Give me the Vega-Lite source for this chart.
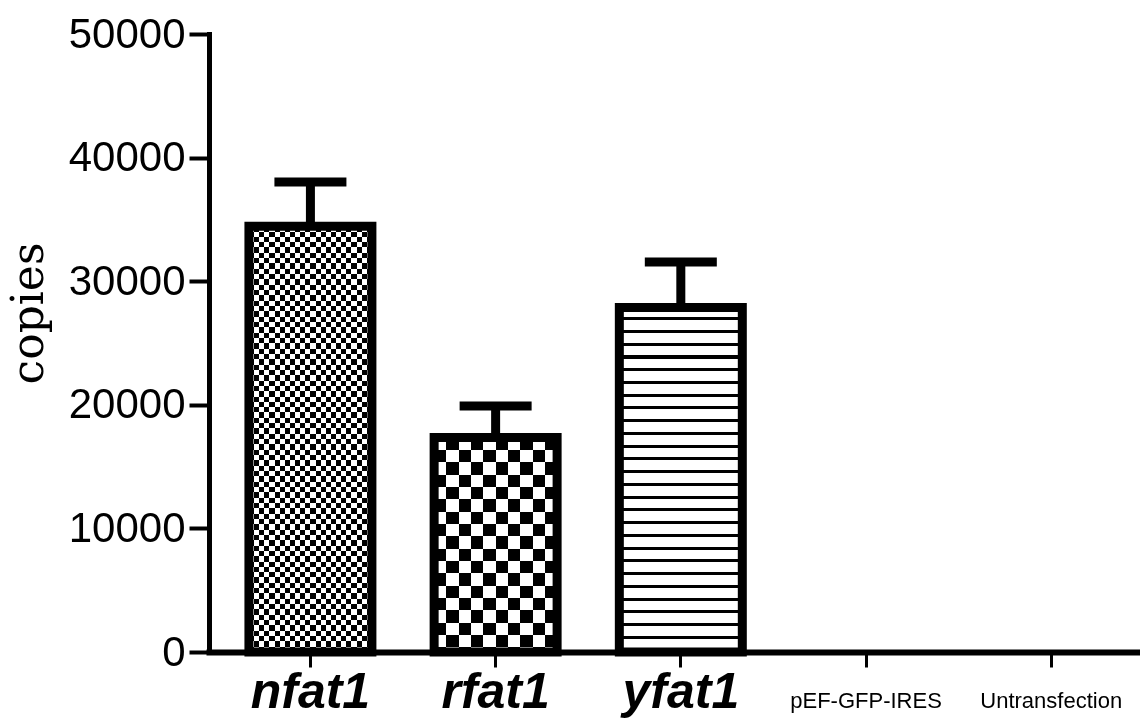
{
"$schema": "https://vega.github.io/schema/vega-lite/v6.json",
"width": 931,
"height": 618,
"autosize": "none",
"padding": {"left": 209, "top": 34, "right": 0, "bottom": 67},
"background": "#ffffff",
"config": {"view": {"stroke": null}},
"data": {"values": [
{"name": "nfat1", "value": 34450, "upper": 38030},
{"name": "rfat1", "value": 17350, "upper": 19900},
{"name": "yfat1", "value": 27870, "upper": 31550},
{"name": "pEF-GFP-IRES", "value": 0, "upper": null},
{"name": "Untransfection", "value": 0, "upper": null}
]},
"encoding": {
"x": {"field": "name", "type": "nominal", "sort": null,
"scale": {"domain": ["nfat1", "rfat1", "yfat1", "pEF-GFP-IRES", "Untransfection"], "paddingInner": 0.336, "paddingOuter": 0.1815, "align": 0.594},
"axis": {"title": null, "labelAngle": 0, "domainColor": "#000", "domainWidth": 6, "domainCap": "square", "tickColor": "#000", "tickWidth": 3, "tickSize": 15, "labelColor": "#000", "labelBaseline": "alphabetic", "labelPadding": 40, "labelOverlap": false, "labelLimit": 400, "labelBound": false, "labelFlush": false,
"labelFont": "Liberation Sans",
"labelFontSize": {"condition": {"test": "indexof(datum.value, 'fat1') >= 0", "value": 50}, "value": 22},
"labelFontStyle": {"condition": {"test": "indexof(datum.value, 'fat1') >= 0", "value": "italic"}, "value": "normal"},
"labelFontWeight": {"condition": {"test": "indexof(datum.value, 'fat1') >= 0", "value": "bold"}, "value": "normal"}}},
"y": {"field": "value", "type": "quantitative", "title": "copies",
"scale": {"domain": [0, 50000], "nice": false, "zero": true},
"axis": {"values": [0, 10000, 20000, 30000, 40000, 50000], "format": "d", "grid": false, "domainColor": "#000", "domainWidth": 5, "domainCap": "square", "tickColor": "#000", "tickWidth": 4, "tickSize": 20, "labelFont": "Liberation Sans", "labelFontSize": 42, "labelColor": "#000", "labelPadding": 4, "labelFlush": false, "labelBound": false, "labelOverlap": false,
"titleFont": "DejaVu Serif", "titleFontSize": 44, "titleFontWeight": "normal", "titleColor": "#000", "titleAngle": -90, "titleX": -167, "titleY": 279, "titleBaseline": "alphabetic", "titleAlign": "center"}}
},
"layer": [
{"transform": [{"filter": "datum.name == 'nfat1'"}],
"mark": {"type": "bar", "strokeWidth": 0, "fill": {"gradient": "linear", "x1": 0, "y1": 0, "x2": 1, "y2": 0, "stops": [
{"offset":0,"color":"#fff"},
{"offset":0.0417,"color":"#fff"},{"offset":0.0417,"color":"#000"},
{"offset":0.0833,"color":"#000"},{"offset":0.0833,"color":"#fff"},
{"offset":0.125,"color":"#fff"},{"offset":0.125,"color":"#000"},
{"offset":0.1667,"color":"#000"},{"offset":0.1667,"color":"#fff"},
{"offset":0.2083,"color":"#fff"},{"offset":0.2083,"color":"#000"},
{"offset":0.25,"color":"#000"},{"offset":0.25,"color":"#fff"},
{"offset":0.2917,"color":"#fff"},{"offset":0.2917,"color":"#000"},
{"offset":0.3333,"color":"#000"},{"offset":0.3333,"color":"#fff"},
{"offset":0.375,"color":"#fff"},{"offset":0.375,"color":"#000"},
{"offset":0.4167,"color":"#000"},{"offset":0.4167,"color":"#fff"},
{"offset":0.4583,"color":"#fff"},{"offset":0.4583,"color":"#000"},
{"offset":0.5,"color":"#000"},{"offset":0.5,"color":"#fff"},
{"offset":0.5417,"color":"#fff"},{"offset":0.5417,"color":"#000"},
{"offset":0.5833,"color":"#000"},{"offset":0.5833,"color":"#fff"},
{"offset":0.625,"color":"#fff"},{"offset":0.625,"color":"#000"},
{"offset":0.6667,"color":"#000"},{"offset":0.6667,"color":"#fff"},
{"offset":0.7083,"color":"#fff"},{"offset":0.7083,"color":"#000"},
{"offset":0.75,"color":"#000"},{"offset":0.75,"color":"#fff"},
{"offset":0.7917,"color":"#fff"},{"offset":0.7917,"color":"#000"},
{"offset":0.8333,"color":"#000"},{"offset":0.8333,"color":"#fff"},
{"offset":0.875,"color":"#fff"},{"offset":0.875,"color":"#000"},
{"offset":0.9167,"color":"#000"},{"offset":0.9167,"color":"#fff"},
{"offset":0.9583,"color":"#fff"},{"offset":0.9583,"color":"#000"},
{"offset":1,"color":"#000"}]}}},
{"transform": [{"filter": "datum.name == 'nfat1'"}],
"mark": {"type": "bar", "strokeWidth": 0, "blend": "difference", "fill": {"gradient": "linear", "x1": 0, "y1": 0, "x2": 0, "y2": 1, "stops": [
{"offset":0,"color":"#000"},
{"offset":0.0125,"color":"#000"},{"offset":0.0125,"color":"#fff"},
{"offset":0.025,"color":"#fff"},{"offset":0.025,"color":"#000"},
{"offset":0.0375,"color":"#000"},{"offset":0.0375,"color":"#fff"},
{"offset":0.05,"color":"#fff"},{"offset":0.05,"color":"#000"},
{"offset":0.0625,"color":"#000"},{"offset":0.0625,"color":"#fff"},
{"offset":0.075,"color":"#fff"},{"offset":0.075,"color":"#000"},
{"offset":0.0875,"color":"#000"},{"offset":0.0875,"color":"#fff"},
{"offset":0.1,"color":"#fff"},{"offset":0.1,"color":"#000"},
{"offset":0.1125,"color":"#000"},{"offset":0.1125,"color":"#fff"},
{"offset":0.125,"color":"#fff"},{"offset":0.125,"color":"#000"},
{"offset":0.1375,"color":"#000"},{"offset":0.1375,"color":"#fff"},
{"offset":0.15,"color":"#fff"},{"offset":0.15,"color":"#000"},
{"offset":0.1625,"color":"#000"},{"offset":0.1625,"color":"#fff"},
{"offset":0.175,"color":"#fff"},{"offset":0.175,"color":"#000"},
{"offset":0.1875,"color":"#000"},{"offset":0.1875,"color":"#fff"},
{"offset":0.2,"color":"#fff"},{"offset":0.2,"color":"#000"},
{"offset":0.2125,"color":"#000"},{"offset":0.2125,"color":"#fff"},
{"offset":0.225,"color":"#fff"},{"offset":0.225,"color":"#000"},
{"offset":0.2375,"color":"#000"},{"offset":0.2375,"color":"#fff"},
{"offset":0.25,"color":"#fff"},{"offset":0.25,"color":"#000"},
{"offset":0.2625,"color":"#000"},{"offset":0.2625,"color":"#fff"},
{"offset":0.275,"color":"#fff"},{"offset":0.275,"color":"#000"},
{"offset":0.2875,"color":"#000"},{"offset":0.2875,"color":"#fff"},
{"offset":0.3,"color":"#fff"},{"offset":0.3,"color":"#000"},
{"offset":0.3125,"color":"#000"},{"offset":0.3125,"color":"#fff"},
{"offset":0.325,"color":"#fff"},{"offset":0.325,"color":"#000"},
{"offset":0.3375,"color":"#000"},{"offset":0.3375,"color":"#fff"},
{"offset":0.35,"color":"#fff"},{"offset":0.35,"color":"#000"},
{"offset":0.3625,"color":"#000"},{"offset":0.3625,"color":"#fff"},
{"offset":0.375,"color":"#fff"},{"offset":0.375,"color":"#000"},
{"offset":0.3875,"color":"#000"},{"offset":0.3875,"color":"#fff"},
{"offset":0.4,"color":"#fff"},{"offset":0.4,"color":"#000"},
{"offset":0.4125,"color":"#000"},{"offset":0.4125,"color":"#fff"},
{"offset":0.425,"color":"#fff"},{"offset":0.425,"color":"#000"},
{"offset":0.4375,"color":"#000"},{"offset":0.4375,"color":"#fff"},
{"offset":0.45,"color":"#fff"},{"offset":0.45,"color":"#000"},
{"offset":0.4625,"color":"#000"},{"offset":0.4625,"color":"#fff"},
{"offset":0.475,"color":"#fff"},{"offset":0.475,"color":"#000"},
{"offset":0.4875,"color":"#000"},{"offset":0.4875,"color":"#fff"},
{"offset":0.5,"color":"#fff"},{"offset":0.5,"color":"#000"},
{"offset":0.5125,"color":"#000"},{"offset":0.5125,"color":"#fff"},
{"offset":0.525,"color":"#fff"},{"offset":0.525,"color":"#000"},
{"offset":0.5375,"color":"#000"},{"offset":0.5375,"color":"#fff"},
{"offset":0.55,"color":"#fff"},{"offset":0.55,"color":"#000"},
{"offset":0.5625,"color":"#000"},{"offset":0.5625,"color":"#fff"},
{"offset":0.575,"color":"#fff"},{"offset":0.575,"color":"#000"},
{"offset":0.5875,"color":"#000"},{"offset":0.5875,"color":"#fff"},
{"offset":0.6,"color":"#fff"},{"offset":0.6,"color":"#000"},
{"offset":0.6125,"color":"#000"},{"offset":0.6125,"color":"#fff"},
{"offset":0.625,"color":"#fff"},{"offset":0.625,"color":"#000"},
{"offset":0.6375,"color":"#000"},{"offset":0.6375,"color":"#fff"},
{"offset":0.65,"color":"#fff"},{"offset":0.65,"color":"#000"},
{"offset":0.6625,"color":"#000"},{"offset":0.6625,"color":"#fff"},
{"offset":0.675,"color":"#fff"},{"offset":0.675,"color":"#000"},
{"offset":0.6875,"color":"#000"},{"offset":0.6875,"color":"#fff"},
{"offset":0.7,"color":"#fff"},{"offset":0.7,"color":"#000"},
{"offset":0.7125,"color":"#000"},{"offset":0.7125,"color":"#fff"},
{"offset":0.725,"color":"#fff"},{"offset":0.725,"color":"#000"},
{"offset":0.7375,"color":"#000"},{"offset":0.7375,"color":"#fff"},
{"offset":0.75,"color":"#fff"},{"offset":0.75,"color":"#000"},
{"offset":0.7625,"color":"#000"},{"offset":0.7625,"color":"#fff"},
{"offset":0.775,"color":"#fff"},{"offset":0.775,"color":"#000"},
{"offset":0.7875,"color":"#000"},{"offset":0.7875,"color":"#fff"},
{"offset":0.8,"color":"#fff"},{"offset":0.8,"color":"#000"},
{"offset":0.8125,"color":"#000"},{"offset":0.8125,"color":"#fff"},
{"offset":0.825,"color":"#fff"},{"offset":0.825,"color":"#000"},
{"offset":0.8375,"color":"#000"},{"offset":0.8375,"color":"#fff"},
{"offset":0.85,"color":"#fff"},{"offset":0.85,"color":"#000"},
{"offset":0.8625,"color":"#000"},{"offset":0.8625,"color":"#fff"},
{"offset":0.875,"color":"#fff"},{"offset":0.875,"color":"#000"},
{"offset":0.8875,"color":"#000"},{"offset":0.8875,"color":"#fff"},
{"offset":0.9,"color":"#fff"},{"offset":0.9,"color":"#000"},
{"offset":0.9125,"color":"#000"},{"offset":0.9125,"color":"#fff"},
{"offset":0.925,"color":"#fff"},{"offset":0.925,"color":"#000"},
{"offset":0.9375,"color":"#000"},{"offset":0.9375,"color":"#fff"},
{"offset":0.95,"color":"#fff"},{"offset":0.95,"color":"#000"},
{"offset":0.9625,"color":"#000"},{"offset":0.9625,"color":"#fff"},
{"offset":0.975,"color":"#fff"},{"offset":0.975,"color":"#000"},
{"offset":0.9875,"color":"#000"},{"offset":0.9875,"color":"#fff"},
{"offset":1,"color":"#fff"}]}}},
{"transform": [{"filter": "datum.name == 'rfat1'"}],
"mark": {"type": "bar", "strokeWidth": 0, "fill": {"gradient": "linear", "x1": 0, "y1": 0, "x2": 1, "y2": 0, "stops": [
{"offset":0,"color":"#fff"},
{"offset":0.1,"color":"#fff"},{"offset":0.1,"color":"#000"},
{"offset":0.2,"color":"#000"},{"offset":0.2,"color":"#fff"},
{"offset":0.3,"color":"#fff"},{"offset":0.3,"color":"#000"},
{"offset":0.4,"color":"#000"},{"offset":0.4,"color":"#fff"},
{"offset":0.5,"color":"#fff"},{"offset":0.5,"color":"#000"},
{"offset":0.6,"color":"#000"},{"offset":0.6,"color":"#fff"},
{"offset":0.7,"color":"#fff"},{"offset":0.7,"color":"#000"},
{"offset":0.8,"color":"#000"},{"offset":0.8,"color":"#fff"},
{"offset":0.9,"color":"#fff"},{"offset":0.9,"color":"#000"},
{"offset":1,"color":"#000"}]}}},
{"transform": [{"filter": "datum.name == 'rfat1'"}],
"mark": {"type": "bar", "strokeWidth": 0, "blend": "difference", "fill": {"gradient": "linear", "x1": 0, "y1": 0, "x2": 0, "y2": 1, "stops": [
{"offset":0,"color":"#000"},
{"offset":0.0575,"color":"#000"},{"offset":0.0575,"color":"#fff"},
{"offset":0.115,"color":"#fff"},{"offset":0.115,"color":"#000"},
{"offset":0.1725,"color":"#000"},{"offset":0.1725,"color":"#fff"},
{"offset":0.23,"color":"#fff"},{"offset":0.23,"color":"#000"},
{"offset":0.2875,"color":"#000"},{"offset":0.2875,"color":"#fff"},
{"offset":0.345,"color":"#fff"},{"offset":0.345,"color":"#000"},
{"offset":0.4025,"color":"#000"},{"offset":0.4025,"color":"#fff"},
{"offset":0.46,"color":"#fff"},{"offset":0.46,"color":"#000"},
{"offset":0.5175,"color":"#000"},{"offset":0.5175,"color":"#fff"},
{"offset":0.575,"color":"#fff"},{"offset":0.575,"color":"#000"},
{"offset":0.6325,"color":"#000"},{"offset":0.6325,"color":"#fff"},
{"offset":0.69,"color":"#fff"},{"offset":0.69,"color":"#000"},
{"offset":0.7475,"color":"#000"},{"offset":0.7475,"color":"#fff"},
{"offset":0.805,"color":"#fff"},{"offset":0.805,"color":"#000"},
{"offset":0.8625,"color":"#000"},{"offset":0.8625,"color":"#fff"},
{"offset":0.92,"color":"#fff"},{"offset":0.92,"color":"#000"},
{"offset":0.9775,"color":"#000"},{"offset":0.9775,"color":"#fff"},
{"offset":1,"color":"#fff"}]}}},
{"transform": [{"filter": "datum.name == 'yfat1'"}],
"mark": {"type": "bar", "strokeWidth": 0, "fill": {"gradient": "linear", "x1": 0, "y1": 0, "x2": 0, "y2": 1, "stops": [
{"offset":0,"color":"#fff"},
{"offset":0.028,"color":"#fff"},{"offset":0.028,"color":"#000"},{"offset":0.037,"color":"#000"},{"offset":0.037,"color":"#fff"},
{"offset":0.065,"color":"#fff"},{"offset":0.065,"color":"#000"},{"offset":0.074,"color":"#000"},{"offset":0.074,"color":"#fff"},
{"offset":0.102,"color":"#fff"},{"offset":0.102,"color":"#000"},{"offset":0.111,"color":"#000"},{"offset":0.111,"color":"#fff"},
{"offset":0.139,"color":"#fff"},{"offset":0.139,"color":"#000"},{"offset":0.148,"color":"#000"},{"offset":0.148,"color":"#fff"},
{"offset":0.176,"color":"#fff"},{"offset":0.176,"color":"#000"},{"offset":0.185,"color":"#000"},{"offset":0.185,"color":"#fff"},
{"offset":0.213,"color":"#fff"},{"offset":0.213,"color":"#000"},{"offset":0.222,"color":"#000"},{"offset":0.222,"color":"#fff"},
{"offset":0.25,"color":"#fff"},{"offset":0.25,"color":"#000"},{"offset":0.259,"color":"#000"},{"offset":0.259,"color":"#fff"},
{"offset":0.287,"color":"#fff"},{"offset":0.287,"color":"#000"},{"offset":0.296,"color":"#000"},{"offset":0.296,"color":"#fff"},
{"offset":0.324,"color":"#fff"},{"offset":0.324,"color":"#000"},{"offset":0.333,"color":"#000"},{"offset":0.333,"color":"#fff"},
{"offset":0.361,"color":"#fff"},{"offset":0.361,"color":"#000"},{"offset":0.37,"color":"#000"},{"offset":0.37,"color":"#fff"},
{"offset":0.398,"color":"#fff"},{"offset":0.398,"color":"#000"},{"offset":0.407,"color":"#000"},{"offset":0.407,"color":"#fff"},
{"offset":0.435,"color":"#fff"},{"offset":0.435,"color":"#000"},{"offset":0.444,"color":"#000"},{"offset":0.444,"color":"#fff"},
{"offset":0.472,"color":"#fff"},{"offset":0.472,"color":"#000"},{"offset":0.481,"color":"#000"},{"offset":0.481,"color":"#fff"},
{"offset":0.509,"color":"#fff"},{"offset":0.509,"color":"#000"},{"offset":0.518,"color":"#000"},{"offset":0.518,"color":"#fff"},
{"offset":0.546,"color":"#fff"},{"offset":0.546,"color":"#000"},{"offset":0.555,"color":"#000"},{"offset":0.555,"color":"#fff"},
{"offset":0.583,"color":"#fff"},{"offset":0.583,"color":"#000"},{"offset":0.592,"color":"#000"},{"offset":0.592,"color":"#fff"},
{"offset":0.62,"color":"#fff"},{"offset":0.62,"color":"#000"},{"offset":0.629,"color":"#000"},{"offset":0.629,"color":"#fff"},
{"offset":0.657,"color":"#fff"},{"offset":0.657,"color":"#000"},{"offset":0.666,"color":"#000"},{"offset":0.666,"color":"#fff"},
{"offset":0.694,"color":"#fff"},{"offset":0.694,"color":"#000"},{"offset":0.703,"color":"#000"},{"offset":0.703,"color":"#fff"},
{"offset":0.731,"color":"#fff"},{"offset":0.731,"color":"#000"},{"offset":0.74,"color":"#000"},{"offset":0.74,"color":"#fff"},
{"offset":0.768,"color":"#fff"},{"offset":0.768,"color":"#000"},{"offset":0.777,"color":"#000"},{"offset":0.777,"color":"#fff"},
{"offset":0.805,"color":"#fff"},{"offset":0.805,"color":"#000"},{"offset":0.814,"color":"#000"},{"offset":0.814,"color":"#fff"},
{"offset":0.842,"color":"#fff"},{"offset":0.842,"color":"#000"},{"offset":0.851,"color":"#000"},{"offset":0.851,"color":"#fff"},
{"offset":0.879,"color":"#fff"},{"offset":0.879,"color":"#000"},{"offset":0.888,"color":"#000"},{"offset":0.888,"color":"#fff"},
{"offset":0.916,"color":"#fff"},{"offset":0.916,"color":"#000"},{"offset":0.925,"color":"#000"},{"offset":0.925,"color":"#fff"},
{"offset":0.953,"color":"#fff"},{"offset":0.953,"color":"#000"},{"offset":0.962,"color":"#000"},{"offset":0.962,"color":"#fff"},
{"offset":1,"color":"#fff"}]}}},
{"transform": [{"filter": "datum.value > 0"}],
"mark": {"type": "bar", "fill": "#fff", "fillOpacity": 0, "stroke": "#000", "strokeWidth": 9}},
{"transform": [{"filter": "isValid(datum.upper)"}],
"mark": {"type": "rule", "color": "#000", "strokeWidth": 9},
"encoding": {"y2": {"field": "upper"}}},
{"transform": [{"filter": "isValid(datum.upper)"}],
"mark": {"type": "tick", "orient": "horizontal", "size": 72, "thickness": 9, "color": "#000", "opacity": 1},
"encoding": {"y": {"field": "upper", "type": "quantitative", "title": "copies"}}}
]
}
